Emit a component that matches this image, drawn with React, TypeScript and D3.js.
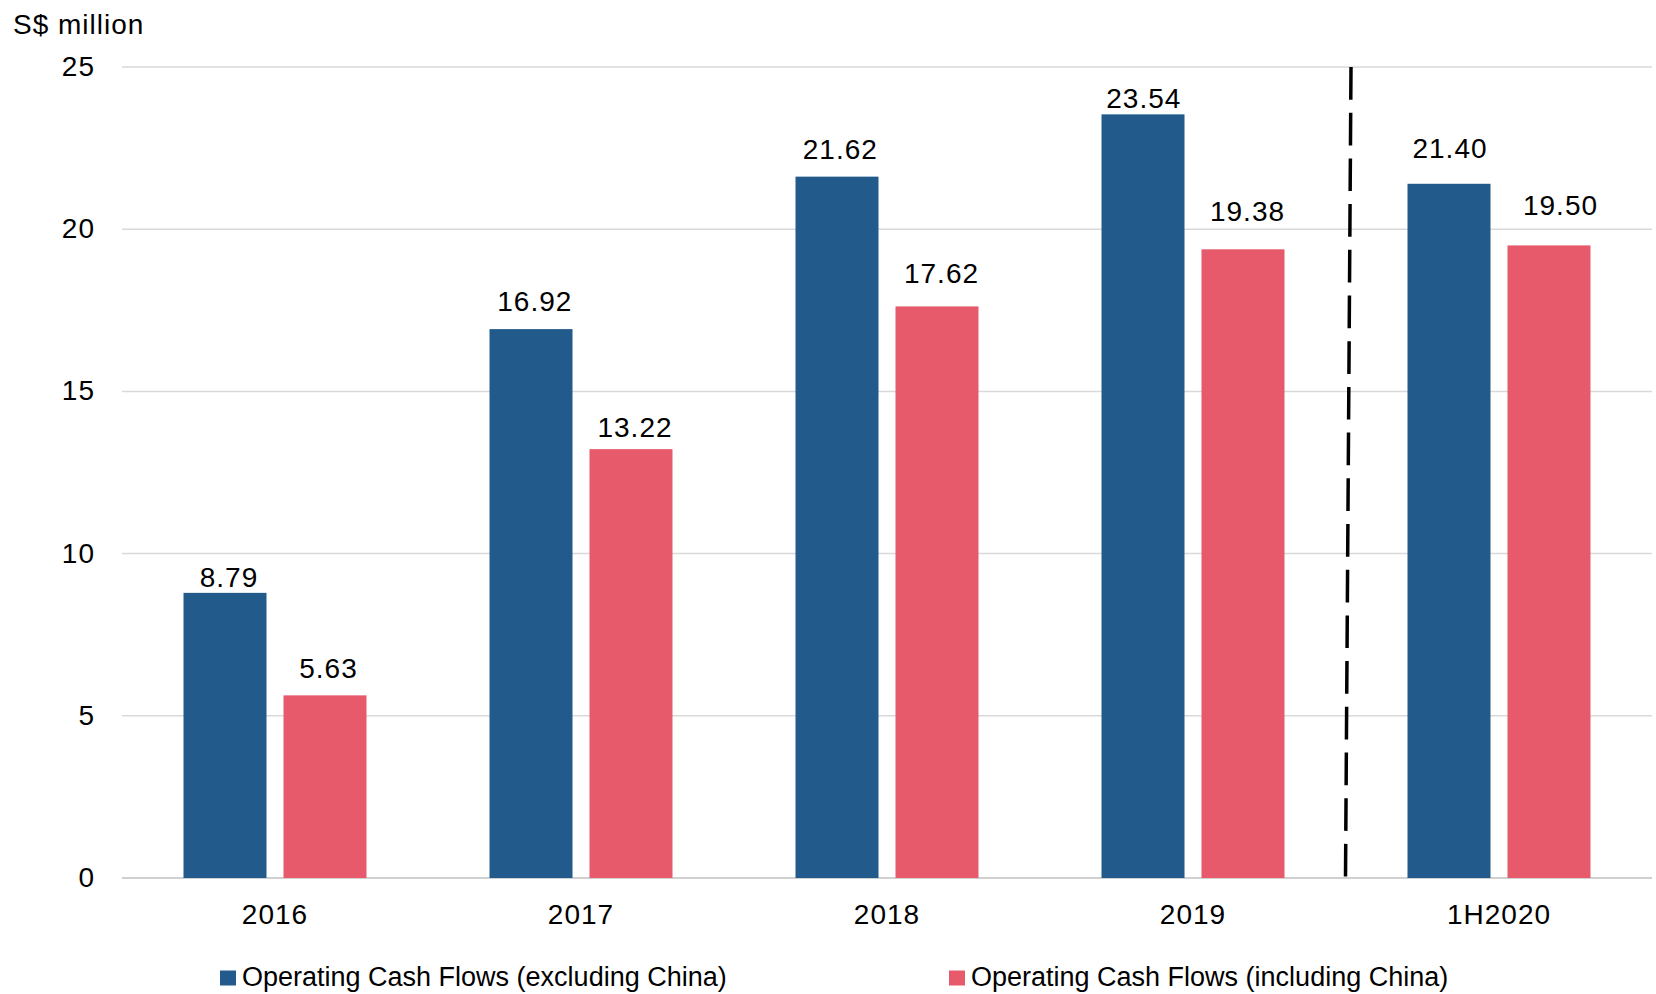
import React from "react";
import * as d3 from "d3";

const categories = ["2016", "2017", "2018", "2019", "1H2020"];
const seriesNames = [
  "Operating Cash Flows (excluding China)",
  "Operating Cash Flows (including China)",
];
const excludingChina = [8.79, 16.92, 21.62, 23.54, 21.4];
const includingChina = [5.63, 13.22, 17.62, 19.38, 19.5];
const yTicks = [0, 5, 10, 15, 20, 25];
const colors = ["#225A8C", "#E65A6C"];

// label placement nudges (px) as in the source chart
const labelGap = [
  [6, 18.3, 18, 6.7, 25.7],
  [17, 11.7, 23.4, 28.3, 30.3],
];
const labelDx = [
  [3.5, 3.3, 2.8, 0.3, 0.5],
  [3, 3.5, 4, 4, 11],
];

const W = 1656;
const H = 994;
const FONT = "'Liberation Sans', Arial, sans-serif";

export default function App() {
  const x = d3.scaleBand<string>().domain(categories).range([122, 1652]).padding(0);
  const bw = x.bandwidth();
  const xs = d3
    .scaleBand<string>()
    .domain(seriesNames)
    .range([bw * 0.201, bw * 0.799])
    .paddingInner(0.17);
  const y = d3.scaleLinear().domain([0, 25]).range([878, 67]);
  const series = [excludingChina, includingChina];

  const xb = x(categories[4]) as number;

  return (
    <svg
      width={W}
      height={H}
      style={{ position: "absolute", left: 0, top: 0, background: "#fff" }}
      fontFamily={FONT}
    >
      {yTicks.map((t) => (
        <g key={t}>
          <line
            x1={122}
            x2={1652}
            y1={y(t)}
            y2={y(t)}
            stroke={t === 0 ? "#d0d0d0" : "#d9d9d9"}
            strokeWidth={t === 0 ? 2 : 1.5}
          />
          <text
            x={95}
            y={y(t) + 9}
            textAnchor="end"
            fontSize={28}
            letterSpacing={1}
            fill="#000"
          >
            {t}
          </text>
        </g>
      ))}
      <text x={13} y={34} fontSize={28} letterSpacing={1} fill="#000">
        S$ million
      </text>

      {categories.map((c, i) => (
        <g key={c}>
          {series.map((vals, s) => {
            const bx = (x(c) as number) + (xs(seriesNames[s]) as number);
            const v = vals[i];
            return (
              <g key={s}>
                <rect
                  x={bx}
                  y={y(v)}
                  width={xs.bandwidth()}
                  height={y(0) - y(v)}
                  fill={colors[s]}
                />
                <text
                  x={bx + xs.bandwidth() / 2 + labelDx[s][i] + 0.5}
                  y={y(v) - labelGap[s][i]}
                  textAnchor="middle"
                  fontSize={28}
                  letterSpacing={1}
                  fill="#000"
                >
                  {v.toFixed(2)}
                </text>
              </g>
            );
          })}
          <text
            x={(x(c) as number) + bw / 2}
            y={924}
            textAnchor="middle"
            fontSize={28}
            letterSpacing={1}
            fill="#000"
          >
            {c}
          </text>
        </g>
      ))}

      <line
        x1={xb + 5}
        y1={y(25)}
        x2={xb - 0.5}
        y2={y(0)}
        stroke="#000"
        strokeWidth={3.5}
        strokeDasharray="32.7 13"
      />

      {seriesNames.map((n, s) => {
        const lx = s === 0 ? 220 : 949;
        return (
          <g key={n}>
            <rect x={lx} y={970.5} width={16} height={15} fill={colors[s]} />
            <text x={lx + 22} y={986} fontSize={27} fill="#000">
              {n}
            </text>
          </g>
        );
      })}
    </svg>
  );
}
